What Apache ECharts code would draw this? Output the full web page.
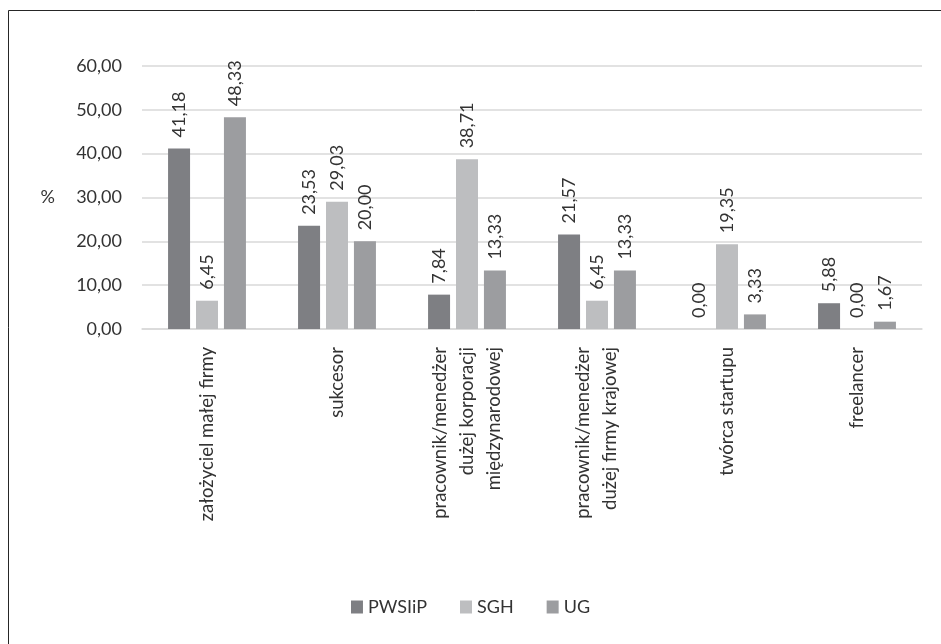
<!DOCTYPE html>
<html>
<head>
<meta charset="utf-8">
<script src="https://cdn.jsdelivr.net/npm/echarts@6/dist/echarts.min.js"></script>
<style>
html,body{margin:0;padding:0;background:#fff;}
#chart{width:941px;height:644px;}
</style>
</head>
<body>
<div id="chart"></div>
<script>
const categories = [
  'założyciel małej firmy',
  'sukcesor',
  'pracownik/menedżer\ndużej korporacji\nmiędzynarodowej',
  'pracownik/menedżer\ndużej firmy krajowej',
  'twórca startupu',
  'freelancer'
];
const seriesNames = ['PWSIiP', 'SGH', 'UG'];
const pwsiip = [41.18, 23.53, 7.84, 21.57, 0.00, 5.88];
const sgh = [6.45, 29.03, 38.71, 6.45, 19.35, 0.00];
const ug = [48.33, 20.00, 13.33, 13.33, 3.33, 1.67];
const yTicks = [0, 10, 20, 30, 40, 50, 60];

const colors = ['#7e7f83', '#bdbec0', '#9c9da0'];
const FONT = 'Lato';
const TXT = '#333333';
const fmt = v => Number(v).toFixed(2).replace('.', ',');

const chart = echarts.init(document.getElementById('chart'), null, {renderer: 'canvas'});

function bar(name, data, i) {
  return {
    name: name,
    type: 'bar',
    data: data,
    barWidth: 22,
    barGap: '27%',
    itemStyle: {color: colors[i]},
    label: {
      show: true,
      position: 'top',
      rotate: 90,
      align: 'left',
      verticalAlign: 'middle',
      distance: 11,
      formatter: p => fmt(p.value),
      fontFamily: FONT,
      fontSize: 18,
      color: TXT
    }
  };
}

chart.setOption({
  animation: false,
  textStyle: {fontFamily: FONT},
  graphic: [{
    type: 'rect',
    shape: {x: 8.5, y: 10.5, width: 1200, height: 1200},
    style: {fill: 'none', stroke: '#262626', lineWidth: 1},
    silent: true
  }],
  grid: {left: 142, right: 19, top: 66, bottom: 315, containLabel: false},
  legend: {
    data: seriesNames,
    top: 593,
    left: 'center',
    icon: 'rect',
    itemWidth: 12,
    itemHeight: 13,
    itemGap: 33,
    textStyle: {fontFamily: FONT, fontSize: 18, color: TXT, padding: [0, 0, 0, 0]}
  },
  xAxis: {
    type: 'category',
    data: categories,
    axisLine: {show: true, lineStyle: {color: '#d9d9d9', width: 1.5}},
    axisTick: {show: false},
    axisLabel: {
      interval: 0,
      rotate: 90,
      margin: 18,
      fontFamily: FONT,
      fontSize: 18.5,
      lineHeight: 27,
      color: TXT
    }
  },
  yAxis: {
    type: 'value',
    min: yTicks[0],
    max: yTicks[yTicks.length - 1],
    interval: yTicks[1] - yTicks[0],
    name: '%',
    nameLocation: 'middle',
    nameRotate: 0,
    nameGap: 87,
    nameTextStyle: {fontFamily: FONT, fontSize: 18, color: TXT},
    axisLine: {show: false},
    axisTick: {show: false},
    axisLabel: {margin: 20, formatter: v => fmt(v), fontFamily: FONT, fontSize: 18, color: TXT},
    splitLine: {lineStyle: {color: '#d9d9d9', width: 1.5}}
  },
  series: [bar(seriesNames[0], pwsiip, 0), bar(seriesNames[1], sgh, 1), bar(seriesNames[2], ug, 2)]
});
</script>
</body>
</html>
